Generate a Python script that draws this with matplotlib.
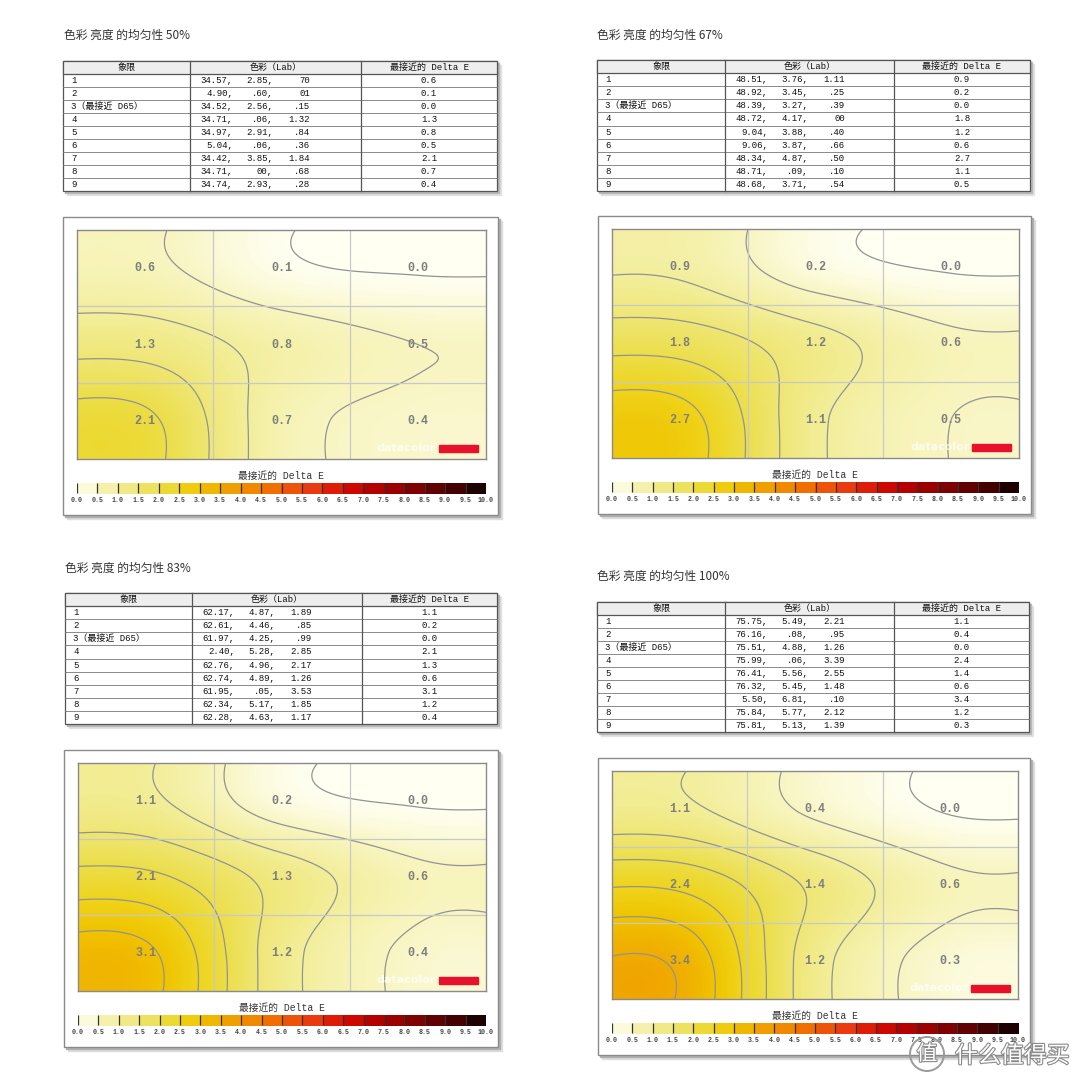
import numpy as np
import matplotlib
matplotlib.use('Agg')
import matplotlib.pyplot as plt
import matplotlib.patheffects as pe
from matplotlib.colors import LinearSegmentedColormap
from matplotlib.patches import Rectangle, Circle

# ---------------------- Data ----------------------
titles = ['色彩 亮度 的均匀性 50%', '色彩 亮度 的均匀性 67%',
          '色彩 亮度 的均匀性 83%', '色彩 亮度 的均匀性 100%']
quadrants = ['1', '2', '3（最接近 D65）', '4', '5', '6', '7', '8', '9']
header = ['象限', '色彩（Lab）', '最接近的 Delta E']

lab_50 = [('34.57,', '2.85,', '70'), ('4.90,', '.60,', '01'), ('34.52,', '2.56,', '.15'),
          ('34.71,', '.06,', '1.32'), ('34.97,', '2.91,', '.84'), ('5.04,', '.06,', '.36'),
          ('34.42,', '3.85,', '1.84'), ('34.71,', '00,', '.68'), ('34.74,', '2.93,', '.28')]
lab_67 = [('48.51,', '3.76,', '1.11'), ('48.92,', '3.45,', '.25'), ('48.39,', '3.27,', '.39'),
          ('48.72,', '4.17,', '00'), ('9.04,', '3.88,', '.40'), ('9.06,', '3.87,', '.66'),
          ('48.34,', '4.87,', '.50'), ('48.71,', '.09,', '.10'), ('48.68,', '3.71,', '.54')]
lab_83 = [('62.17,', '4.87,', '1.89'), ('62.61,', '4.46,', '.85'), ('61.97,', '4.25,', '.99'),
          ('2.40,', '5.28,', '2.85'), ('62.76,', '4.96,', '2.17'), ('62.74,', '4.89,', '1.26'),
          ('61.95,', '.05,', '3.53'), ('62.34,', '5.17,', '1.85'), ('62.28,', '4.63,', '1.17')]
lab_100 = [('75.75,', '5.49,', '2.21'), ('76.16,', '.08,', '.95'), ('75.51,', '4.88,', '1.26'),
           ('75.99,', '.06,', '3.39'), ('76.41,', '5.56,', '2.55'), ('76.32,', '5.45,', '1.48'),
           ('5.50,', '6.81,', '.10'), ('75.84,', '5.77,', '2.12'), ('75.81,', '5.13,', '1.39')]

de_50 = [0.6, 0.1, 0.0, 1.3, 0.8, 0.5, 2.1, 0.7, 0.4]
de_67 = [0.9, 0.2, 0.0, 1.8, 1.2, 0.6, 2.7, 1.1, 0.5]
de_83 = [1.1, 0.2, 0.0, 2.1, 1.3, 0.6, 3.1, 1.2, 0.4]
de_100 = [1.1, 0.4, 0.0, 2.4, 1.4, 0.6, 3.4, 1.2, 0.3]

cbar_ticks = np.arange(0, 10.01, 0.5)
cbar_colors = ['#fffff2', '#f8f5c0', '#f3ee9a', '#efe674', '#ecde48', '#efd41c', '#f0c400',
               '#f0ac00', '#f09400', '#f07c00', '#f06200', '#ee4812', '#e62e10', '#d61000',
               '#c20000', '#a80000', '#8e0000', '#720000', '#540000', '#360000', '#080000']

# ---------------------- Layout (pixels) ----------------------
W = H = 1080
layouts = [
    dict(title=(64, 35), table=(63, 61, 497, 191), cols=(190, 361), plot=(77, 230, 486, 459)),
    dict(title=(597, 35), table=(597, 60, 1030, 191), cols=(725, 894), plot=(612, 229, 1019, 458)),
    dict(title=(65, 568), table=(65, 593, 497, 724), cols=(192, 362), plot=(78, 763, 486, 991)),
    dict(title=(597, 576), table=(597, 602, 1029, 732), cols=(725, 894), plot=(612, 771, 1018, 999)),
]
labs = [lab_50, lab_67, lab_83, lab_100]
des = [de_50, de_67, de_83, de_100]

cjk = ['Noto Sans CJK SC', 'DejaVu Sans']
mono = ['Liberation Mono', 'Noto Sans CJK SC']
tcol = '#111111'

cmap = LinearSegmentedColormap.from_list('de', list(zip(cbar_ticks / 10, cbar_colors)))


def cr_weights(n):
    # Catmull-Rom weights from 3 cell centres (edge clamped) to n samples across 0..3
    s = np.linspace(0, 3, n) - 0.5 + 2
    i = np.minimum(np.floor(s).astype(int), 4)
    t = s - i
    w = np.stack([0.5 * (-t + 2 * t**2 - t**3), 0.5 * (2 - 5 * t**2 + 3 * t**3),
                  0.5 * (t + 4 * t**2 - 3 * t**3), 0.5 * (-t**2 + t**3)], axis=1)
    M = np.zeros((n, 7))
    for k in range(4):
        np.add.at(M, (np.arange(n), i - 1 + k), w[:, k])
    return M


fig = plt.figure(figsize=(10.8, 10.8), dpi=100)
bg = fig.add_axes([0, 0, 1, 1])
bg.set_xlim(0, W)
bg.set_ylim(H, 0)
bg.axis('off')


def draw_table(lay, lab, de):
    x0, y0, x1, y1 = lay['table']
    c1, c2 = lay['cols']
    rh = (y1 - y0) / 10
    bg.add_patch(Rectangle((x0 + 4, y0 + 4), x1 - x0, y1 - y0, color='#e2e2e2', zorder=1))
    bg.add_patch(Rectangle((x0 + 2, y0 + 2), x1 - x0, y1 - y0, color='#b8b8b8', zorder=1))
    bg.add_patch(Rectangle((x0, y0), x1 - x0, y1 - y0, facecolor='white', edgecolor='#555555', lw=0.9, zorder=2))
    bg.add_patch(Rectangle((x0, y0), x1 - x0, rh, facecolor='#eeeeee', edgecolor='#555555', lw=0.9, zorder=2))
    for k in range(2, 10):
        bg.plot([x0, x1], [y0 + k * rh, y0 + k * rh], color='#777777', lw=0.6, zorder=3)
    for c in (c1, c2):
        bg.plot([c, c], [y0, y1], color='#555555', lw=0.9, zorder=3)
    ty = y0 + rh / 2
    kw = dict(va='center', fontsize=6.5, family=mono, color=tcol, zorder=4)
    bg.text((x0 + c1) / 2, ty, header[0], ha='center', **kw)
    bg.text((c1 + c2) / 2, ty, header[1], ha='center', **kw)
    bg.text((c2 + x1) / 2, ty, header[2], ha='center', **kw)
    for i in range(9):
        ry = y0 + (i + 1.5) * rh
        bg.text(x0 + 8, ry, quadrants[i], ha='left', **kw)
        for j, off in enumerate((43, 83, 120)):
            bg.text(c1 + off, ry, lab[i][j], ha='right', **kw)
        bg.text((c2 + x1) / 2, ry, f'{de[i]:.1f}', ha='center', **kw)


def draw_map(lay, de):
    px0, py0, px1, py1 = lay['plot']
    # frame with shadow
    fx0, fy0, fx1, fy1 = px0 - 14, py0 - 13, px1 + 12, py1 + 56
    bg.add_patch(Rectangle((fx0 + 4, fy0 + 4), fx1 - fx0, fy1 - fy0, color='#dedede', zorder=1))
    bg.add_patch(Rectangle((fx0 + 2, fy0 + 2), fx1 - fx0, fy1 - fy0, color='#b0b0b0', zorder=1))
    bg.add_patch(Rectangle((fx0, fy0), fx1 - fx0, fy1 - fy0, facecolor='white', edgecolor='#8a8a8a', lw=1, zorder=2))

    grid = np.array(de).reshape(3, 3)
    ny, nx = 150, 260
    field = cr_weights(ny) @ np.pad(grid, 2, mode='edge') @ cr_weights(nx).T
    X, Y = np.meshgrid(np.linspace(0, 3, nx), np.linspace(0, 3, ny))

    ax = fig.add_axes([px0 / W, 1 - py1 / H, (px1 - px0) / W, (py1 - py0) / H])
    ax.imshow(field, extent=[0, 3, 3, 0], cmap=cmap, vmin=0, vmax=10, aspect='auto', interpolation='bilinear')
    levels = [0.03] + list(np.arange(0.5, 10, 0.5))
    ax.contour(X, Y, field, levels=levels, colors='#939393', linewidths=0.9)
    for v in (1, 2):
        ax.axvline(v, color='#c8c8c8', lw=0.9)
        ax.axhline(v, color='#c8c8c8', lw=0.9)
    for k, v in enumerate(de):
        ax.text(k % 3 + 0.5, k // 3 + 0.5, f'{v:.1f}', ha='center', va='center', fontsize=8.5,
                family='Liberation Mono', fontweight='bold', color='#7e7e7e')
    ax.text(0.878, 0.048, 'datacolor', transform=ax.transAxes, ha='right', va='center', fontsize=8,
            fontweight='bold', color='white', alpha=0.75, family='DejaVu Sans')
    ax.add_patch(Rectangle((0.885, 0.03), 0.095, 0.031, transform=ax.transAxes, color='#e8102a'))
    ax.set_xlim(0, 3)
    ax.set_ylim(3, 0)
    ax.set_xticks([])
    ax.set_yticks([])
    for sp in ax.spines.values():
        sp.set_color('#8a8a8a')
        sp.set_linewidth(1)

    # colour bar
    fig.text((px0 + px1) / 2 / W, 1 - (py1 + 17) / H, '最接近的 Delta E', ha='center', va='center',
             fontsize=7, family=mono, color='#333333')
    cax = fig.add_axes([px0 / W, 1 - (py1 + 35) / H, (px1 - px0) / W, 11 / H])
    mids = (cbar_ticks[:-1] + cbar_ticks[1:]) / 2
    cax.imshow(mids[None, :], extent=[0, 10, 0, 1], cmap=cmap, vmin=0, vmax=10, aspect='auto',
               interpolation='nearest')
    cax.vlines(cbar_ticks[:-1], 0.1, 1, colors='#333333', lw=0.9)
    cax.set_xlim(0, 10)
    cax.set_ylim(0, 1)
    cax.set_yticks([])
    cax.set_xticks(cbar_ticks)
    cax.set_xticklabels([f'{v:.1f}' for v in cbar_ticks], fontsize=4.8, family='Liberation Mono',
                        fontweight='bold', color='#444444')
    cax.tick_params(axis='x', length=0, pad=2)
    for sp in cax.spines.values():
        sp.set_visible(False)


for k, lay in enumerate(layouts):
    tx, ty = lay['title']
    bg.text(tx, ty, titles[k], ha='left', va='center', fontsize=8.5, family=cjk, color='#333333')
    draw_table(lay, labs[k], des[k])
    draw_map(lay, des[k])

# site watermark (sits over the last colour bar labels, as in the source)
stroke = [pe.withStroke(linewidth=1.6, foreground='#8a8a8a')]
wm = fig.add_axes([0, 0, 1, 1], zorder=10)
wm.set_xlim(0, W)
wm.set_ylim(H, 0)
wm.axis('off')
wm.text(955, 1056, '什么值得买', ha='left', va='center', fontsize=16.5, family=cjk,
        color='white', path_effects=stroke)
wm.add_patch(Circle((927, 1054), 17, facecolor='none', edgecolor='#9a9a9a', lw=1.4))
wm.text(927, 1054, '值', ha='center', va='center', fontsize=15, family=cjk, color='white', path_effects=stroke)

fig.savefig('out.png', dpi=100, facecolor='white')
